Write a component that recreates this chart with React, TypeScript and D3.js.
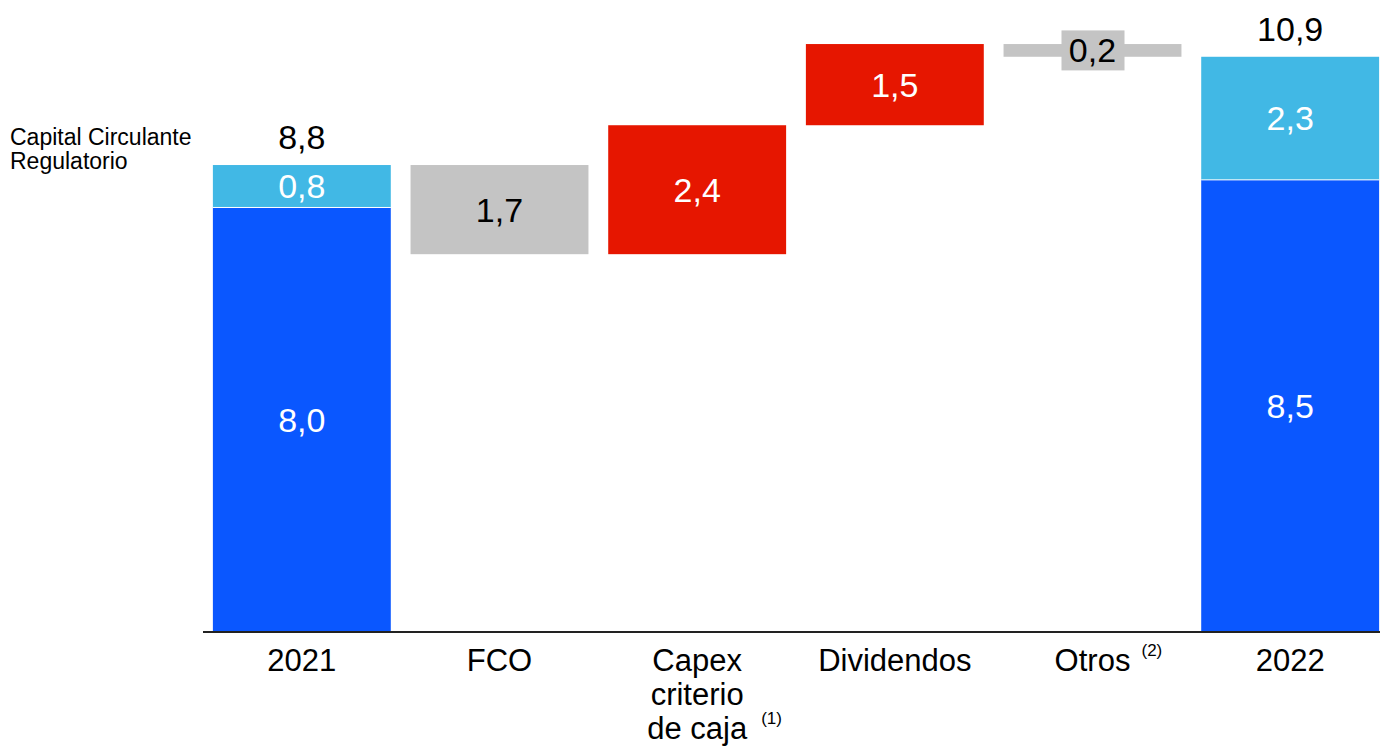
import React from 'react';
import * as d3 from 'd3';

const categories = ['2021', 'FCO', 'Capex', 'Dividendos', 'Otros', '2022'];
const axisLines = [['2021'], ['FCO'], ['Capex', 'criterio', 'de caja'], ['Dividendos'], ['Otros'], ['2022']];
const axisNotes = ['', '', '(1)', '', '(2)', ''];

// stacked totals: base debt + regulatory working capital
const baseValues = [8.0, 8.52];
const capitalValues = [0.8, 2.32];
const totalLabels = ['8,8', '10,9'];
const baseLabels = ['8,0', '8,5'];
const capitalLabels = ['0,8', '2,3'];

// movements between the two totals (sign = direction)
const stepValues = [-1.68, 2.43, 1.53, -0.24];
const stepLabels = ['1,7', '2,4', '1,5', '0,2'];
const stepKinds = ['gray', 'red', 'red', 'gray'];

const W = 1380;
const H = 746;
const colors = { dark: '#0A57FF', light: '#41B8E5', red: '#E61600', gray: '#C4C4C4' };
const font = '"Liberation Sans", Arial, sans-serif';

const App = () => {
  const x = d3.scaleBand().domain(categories).range([203, 1389]).paddingInner(0.1).paddingOuter(0.05);
  const y = d3.scaleLinear().domain([0, 11.91]).range([632, 0]);
  const bw = x.bandwidth();

  let running = baseValues[0] + capitalValues[0];
  const steps = stepValues.map((v, i) => {
    const from = running;
    running += v;
    return { cat: categories[i + 1], lo: Math.min(from, running), hi: Math.max(from, running), label: stepLabels[i], kind: stepKinds[i] };
  });

  const totals = [0, 1].map((i) => ({
    cat: i === 0 ? categories[0] : categories[5],
    base: baseValues[i],
    cap: capitalValues[i],
    i,
  }));

  return (
    <svg width={W} height={H} style={{ position: 'absolute', left: 0, top: 0, fontFamily: font }}>
      <rect width={W} height={H} fill="#fff" />
      {totals.map((t) => {
        const x0 = x(t.cat)!;
        const cx = x0 + bw / 2;
        const yBase = y(t.base);
        const yTop = y(t.base + t.cap);
        return (
          <g key={t.cat}>
            <rect x={x0} y={yBase} width={bw} height={y(0) - yBase} fill={colors.dark} />
            <rect x={x0} y={yTop} width={bw} height={yBase - yTop} fill={colors.light} />
            <line x1={x0} x2={x0 + bw} y1={yBase} y2={yBase} stroke="#fff" strokeWidth={1} />
            <text x={cx} y={(yBase + y(0)) / 2} fill="#fff" fontSize={34} textAnchor="middle" dominantBaseline="central">
              {baseLabels[t.i]}
            </text>
            <text x={cx} y={(yBase + yTop) / 2} fill="#fff" fontSize={34} textAnchor="middle" dominantBaseline="central">
              {capitalLabels[t.i]}
            </text>
            <text x={cx} y={yTop - 16} fill="#000" fontSize={34} textAnchor="middle">
              {totalLabels[t.i]}
            </text>
          </g>
        );
      })}
      {steps.map((s) => {
        const x0 = x(s.cat)!;
        const cx = x0 + bw / 2;
        const yt = y(s.hi);
        const yb = y(s.lo);
        const small = yb - yt < 30;
        const fill = s.kind === 'red' ? colors.red : colors.gray;
        return (
          <g key={s.cat}>
            <rect x={x0} y={yt} width={bw} height={yb - yt} fill={fill} />
            {small && <rect x={cx - 31} y={(yt + yb) / 2 - 20} width={63} height={40} fill={colors.gray} />}
            <text
              x={cx}
              y={(yt + yb) / 2}
              fill={s.kind === 'red' ? '#fff' : '#000'}
              fontSize={34}
              textAnchor="middle"
              dominantBaseline="central"
            >
              {s.label}
            </text>
          </g>
        );
      })}
      <line x1={203} x2={W} y1={y(0)} y2={y(0)} stroke="#222" strokeWidth={2} />
      {categories.map((c, i) => {
        const cx = x(c)! + bw / 2;
        const lines = axisLines[i];
        return (
          <g key={c}>
            {lines.map((l, j) => (
              <text key={j} x={cx} y={671 + j * 34} fontSize={31} textAnchor="middle" fill="#000">
                {l}
              </text>
            ))}
            {axisNotes[i] && (
              <text
                x={i === 2 ? cx + 64 : cx + 49}
                y={i === 2 ? 724 : 656}
                fontSize={17}
                textAnchor="start"
                fill="#000"
              >
                {axisNotes[i]}
              </text>
            )}
          </g>
        );
      })}
      <text x={10} y={145} fontSize={23} fill="#000">Capital Circulante</text>
      <text x={10} y={169} fontSize={23} fill="#000">Regulatorio</text>
    </svg>
  );
};

export default App;
